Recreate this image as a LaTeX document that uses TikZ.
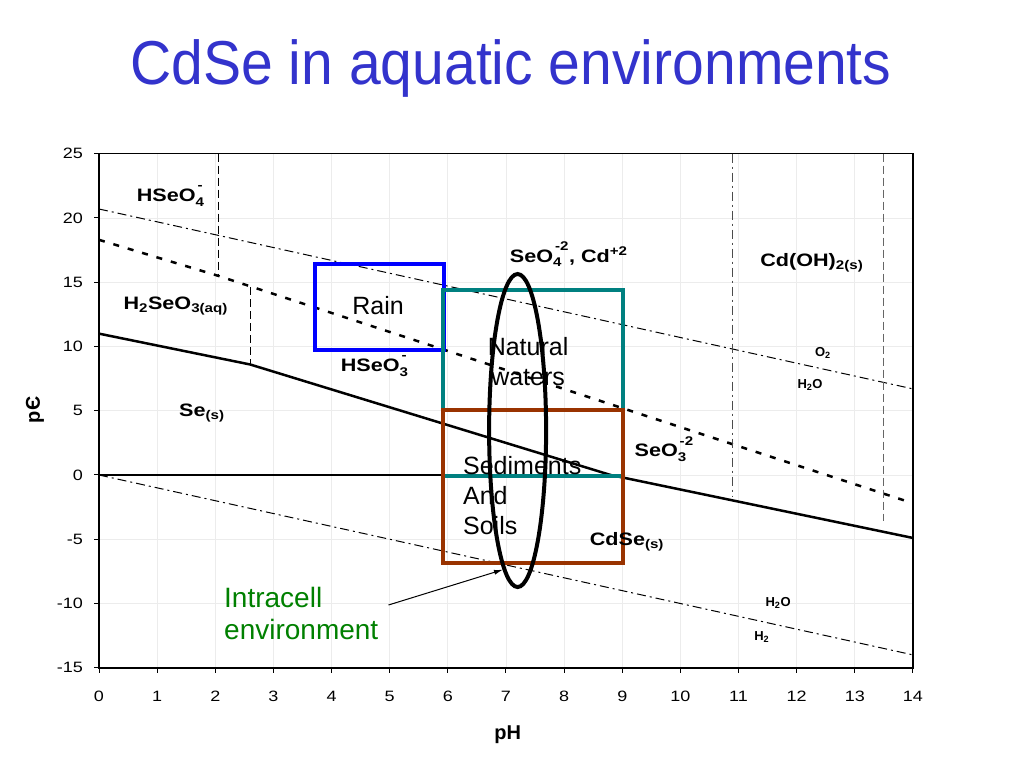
\documentclass[tikz,border=0pt]{standalone}
\usepackage{fontspec}
\setmainfont{Liberation Sans}
\newfontfamily\chartfont{Liberation Sans}[FakeStretch=1.2]
\newfontfamily\titlefont{Liberation Sans}[FakeStretch=0.92]
\usetikzlibrary{arrows.meta,shapes.geometric}
\definecolor{titleblue}{RGB}{51,51,204}
\definecolor{rainblue}{RGB}{0,0,255}
\definecolor{waterteal}{RGB}{0,128,128}
\definecolor{soilbrown}{RGB}{153,51,0}
\definecolor{cellgreen}{RGB}{0,128,0}
\newcommand{\chg}[2]{\rlap{\raisebox{-0.2ex}{\textsubscript{#1}}}\raisebox{0.6ex}{\textsuperscript{\hspace{0.15em}#2}}}
\tikzset{%
  >={Latex[width=5pt,length=9pt]},
  % Specifications for style of nodes:
         species/.style = {inner sep=0pt, font=\chartfont\bfseries\fontsize{18}{20}\selectfont},
           small/.style = {inner sep=0pt, font=\bfseries\fontsize{13}{15}\selectfont},
       ticklabel/.style = {inner sep=0pt, font=\chartfont\fontsize{15}{17}\selectfont},
       axislabel/.style = {inner sep=0pt, font=\bfseries\fontsize{20}{22}\selectfont},
        zonetext/.style = {inner sep=0pt, font=\fontsize{25}{30}\selectfont},
  % Specifications for style of lines:
        gridline/.style = {gray!15, line width=0.7pt},
        boundary/.style = {black, line width=2.5pt},
       waterline/.style = {black, line width=1pt, dash pattern=on 9pt off 4pt on 2pt off 4pt},
          seline/.style = {black, line width=2.5pt, dash pattern=on 6pt off 9pt},
          phline/.style = {black, line width=1.3pt, dash pattern=on 8pt off 4pt},
            zone/.style = {line width=4pt}
                           }

\begin{document}
\begin{tikzpicture}[x=1pt, y=1pt]
  \useasboundingbox (0,0) rectangle (1024,768);
  \node (title) [anchor=base, text=titleblue, inner sep=0pt,
                 font=\titlefont\fontsize{62}{72}\selectfont] at (511,683) {CdSe in aquatic environments};

  \begin{scope}[shift={(99pt,293pt)}, x=58.14pt, y=12.85pt]
    % grid and frame
    \foreach \x in {1,...,13} \draw[gridline] (\x,-15) -- (\x,25);
    \foreach \y in {-10,-5,...,20} \draw[gridline] (0,\y) -- (14,\y);

    \foreach \x in {0,...,14} {
      \draw[line width=1pt] (\x,-15) -- ++(0,-5pt);
      \node (xt\x) [ticklabel] at ([yshift=-29pt]\x,-15) {\x};
    }
    \foreach \y in {-15,-10,...,25} {
      \draw[line width=1pt] (0,\y) -- ++(-5pt,0);
      \node (yt\y) [ticklabel, anchor=east] at ([xshift=-16pt]0,\y) {\y};
    }
    \node (ph) [axislabel] at (7.03,-20.2) {pH};
    \node (pe) [axislabel, rotate=90] at (-1.1,5.06) {pЄ};

    % stability lines
    \draw[waterline] (0,20.7) -- (14,6.7);
    \draw[waterline] (0,0) -- (14,-14);
    \draw[seline]    (0,18.3) -- (2.05,15.5) -- (14,-2.2);
    \draw[phline]    (2.05,25) -- (2.05,15.5);
    \draw[phline]    (2.6,14.6) -- (2.6,8.6);
    \draw[waterline, line width=0.8pt, black!70] (10.9,25) -- (10.9,-1.75);
    \draw[phline, line width=1pt, black!60]      (13.5,25) -- (13.5,-3.6);
    \draw[boundary]  (0,11) -- (2.6,8.6) -- (8.8,0) -- (14,-4.9);
    \draw[boundary]  (0,0) -- (8.8,0);

    \draw[line width=1.5pt] (0,-15) rectangle (14,25);

    % environments
    \draw[zone, rainblue]   (3.72,9.73) rectangle (5.93,16.4);
    \draw[zone, waterteal]  (5.92,-0.1) rectangle (9.01,14.4);
    \draw[zone, soilbrown]  (5.92,-6.85) rectangle (9.01,5.06);

    \node (rain)      [zonetext] at (4.8,13.2) {Rain};
    \node (natural)   [zonetext, align=center] at (7.38,8.8) {Natural\\waters};
    \node (sediments) [zonetext, align=left, anchor=west] at (6.26,-1.63) {Sediments\\And\\Soils};

    \node (cell) [ellipse, draw, line width=4pt, minimum width=57pt, minimum height=313pt,
                  inner sep=0pt] at (7.2,3.46) {};
    \node (intracell) [align=left, anchor=west, inner sep=0pt, text=cellgreen,
                       font=\fontsize{28}{32}\selectfont] at (2.15,-10.74) {Intracell\\environment};
    \draw[->, line width=1pt] ([shift={(10pt,8pt)}]intracell.east) -- (cell.264);

    % species
    \node (hseo4)  [species] at (1.22,21.7)  {HSeO\chg{4}{-}};
    \node (h2seo3) [species] at (1.32,13.15) {H\textsubscript{2}SeO\textsubscript{3(aq)}};
    \node (hseo3)  [species] at (4.73,8.48)  {HSeO\chg{3}{-}};
    \node (se)     [species] at (1.77,4.82)  {Se\textsubscript{(s)}};
    \node (seo4)   [species] at (8.08,17.2)  {SeO\chg{4}{-2}, Cd\textsuperscript{+2}};
    \node (cdoh)   [species] at (12.26,16.5) {Cd(OH)\textsubscript{2(s)}};
    \node (seo3)   [species] at (9.72,2.02)  {SeO\chg{3}{-2}};
    \node (cdse)   [species] at (9.08,-5.2)  {CdSe\textsubscript{(s)}};
    \node (o2)     [small]   at (12.45,9.49) {O\textsubscript{2}};
    \node (h2oup)  [small]   at (12.23,7.0)  {H\textsubscript{2}O};
    \node (h2olow) [small]   at (11.68,-9.96) {H\textsubscript{2}O};
    \node (h2)     [small]   at (11.4,-12.6) {H\textsubscript{2}};
  \end{scope}
\end{tikzpicture}
\end{document}
